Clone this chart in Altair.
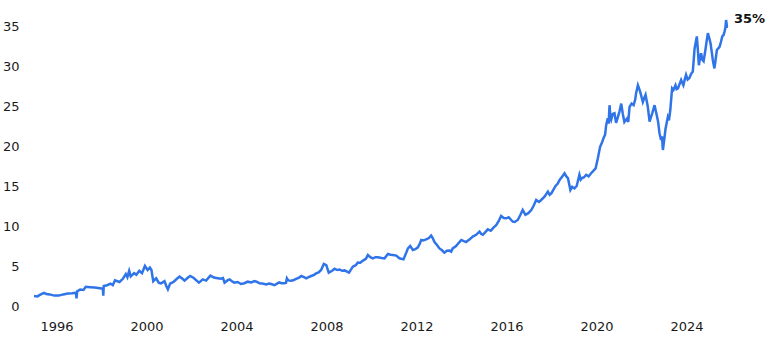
import altair as alt
import pandas as pd

years = [
    1995.00, 1995.15, 1995.30, 1995.45, 1995.55, 1995.70, 1995.90, 1996.10, 1996.30, 1996.50,
    1996.70, 1996.86, 1996.89, 1996.92, 1997.05, 1997.20, 1997.30, 1997.50, 1997.70, 1997.85,
    1998.00, 1998.06, 1998.08, 1998.10, 1998.25, 1998.40, 1998.50, 1998.60, 1998.80, 1998.95,
    1999.08, 1999.15, 1999.23, 1999.30, 1999.45, 1999.55, 1999.68, 1999.80, 1999.93, 2000.05,
    2000.15, 2000.22, 2000.30, 2000.43, 2000.55, 2000.65, 2000.80, 2000.88, 2000.95, 2001.05,
    2001.20, 2001.35, 2001.47, 2001.60, 2001.69, 2001.82, 2001.94, 2002.10, 2002.33, 2002.50,
    2002.65, 2002.84, 2003.00, 2003.10, 2003.30, 2003.40, 2003.47, 2003.60, 2003.69, 2003.80,
    2003.90, 2004.05, 2004.20, 2004.35, 2004.50, 2004.65, 2004.80, 2004.92, 2005.02, 2005.15,
    2005.32, 2005.45, 2005.54, 2005.69, 2005.80, 2005.90, 2006.00, 2006.13, 2006.20, 2006.24,
    2006.30, 2006.43, 2006.55, 2006.65, 2006.78, 2006.88, 2007.00, 2007.10, 2007.20, 2007.32,
    2007.45, 2007.54, 2007.65, 2007.76, 2007.88, 2007.99, 2008.10, 2008.25, 2008.36, 2008.48,
    2008.58, 2008.70, 2008.80, 2009.00, 2009.10, 2009.17, 2009.30, 2009.39, 2009.50, 2009.62,
    2009.75, 2009.84, 2009.95, 2010.06, 2010.18, 2010.28, 2010.45, 2010.58, 2010.73, 2010.85,
    2010.95, 2011.10, 2011.24, 2011.42, 2011.55, 2011.62, 2011.72, 2011.84, 2011.95, 2012.06,
    2012.15, 2012.21, 2012.30, 2012.43, 2012.55, 2012.65, 2012.72, 2012.80, 2012.92, 2013.02,
    2013.12, 2013.24, 2013.35, 2013.47, 2013.54, 2013.61, 2013.76, 2013.88, 2013.99, 2014.10,
    2014.20, 2014.35, 2014.50, 2014.65, 2014.80, 2014.88, 2014.95, 2015.05, 2015.17, 2015.30,
    2015.42, 2015.54, 2015.65, 2015.76, 2015.88, 2015.99, 2016.10, 2016.21, 2016.28, 2016.36,
    2016.50, 2016.62, 2016.72, 2016.84, 2016.97, 2017.10, 2017.20, 2017.32, 2017.44, 2017.54,
    2017.69, 2017.84, 2017.92, 2018.00, 2018.10, 2018.18, 2018.28, 2018.36, 2018.48, 2018.58,
    2018.66, 2018.73, 2018.84, 2018.92, 2019.02, 2019.12, 2019.24, 2019.30, 2019.36, 2019.45,
    2019.54, 2019.65, 2019.76, 2019.86, 2019.96, 2020.06, 2020.16, 2020.24, 2020.31, 2020.38,
    2020.43, 2020.50, 2020.54, 2020.58, 2020.62, 2020.65, 2020.72, 2020.80, 2020.87, 2020.95,
    2021.02, 2021.10, 2021.17, 2021.24, 2021.35, 2021.41, 2021.47, 2021.56, 2021.65, 2021.72,
    2021.76, 2021.84, 2021.94, 2022.06, 2022.12, 2022.18, 2022.28, 2022.36, 2022.42, 2022.48,
    2022.58, 2022.68, 2022.74, 2022.80, 2022.87, 2022.91, 2022.95, 2023.02, 2023.07, 2023.17,
    2023.22, 2023.28, 2023.36, 2023.42, 2023.51, 2023.56, 2023.62, 2023.70, 2023.76, 2023.81,
    2023.86, 2023.92, 2023.98, 2024.05, 2024.13, 2024.20, 2024.28, 2024.36, 2024.46, 2024.51,
    2024.55, 2024.60, 2024.65, 2024.70, 2024.76, 2024.84, 2024.90, 2024.95, 2025.02, 2025.07,
    2025.12, 2025.17, 2025.24, 2025.28, 2025.35, 2025.47, 2025.53, 2025.59, 2025.65, 2025.69,
    2025.73, 2025.76, 2025.80, 2025.84,
]

values = [
    1.25, 1.20, 1.45, 1.65, 1.50, 1.45, 1.30, 1.30, 1.45, 1.55,
    1.60, 1.67, 0.95, 1.85, 2.05, 2.00, 2.40, 2.35, 2.30, 2.25,
    2.20, 2.15, 1.30, 2.50, 2.60, 2.80, 2.60, 3.20, 3.00, 3.40,
    4.00, 3.60, 4.40, 3.70, 4.10, 3.90, 4.40, 4.10, 5.00, 4.50,
    4.80, 4.50, 3.10, 3.46, 2.90, 2.83, 3.10, 2.50, 2.08, 2.80,
    3.00, 3.40, 3.67, 3.40, 3.17, 3.50, 3.75, 3.50, 2.92, 3.33,
    3.17, 3.80, 3.55, 3.50, 3.40, 3.50, 2.92, 3.20, 3.33, 3.10,
    2.92, 3.00, 2.75, 2.85, 3.04, 2.95, 3.12, 3.00, 2.83, 2.80,
    2.70, 2.80, 2.75, 2.60, 2.80, 2.96, 2.85, 2.83, 2.90, 3.46,
    3.20, 3.17, 3.25, 3.38, 3.55, 3.75, 3.60, 3.46, 3.60, 3.75,
    3.90, 4.08, 4.20, 4.50, 5.25, 5.10, 4.17, 4.40, 4.67, 4.50,
    4.55, 4.40, 4.45, 4.17, 4.60, 4.92, 5.10, 5.42, 5.40, 5.67,
    5.90, 6.38, 6.10, 5.96, 6.10, 6.08, 6.00, 5.96, 6.50, 6.40,
    6.38, 6.30, 5.96, 5.83, 6.70, 7.20, 7.50, 7.00, 7.10, 7.33,
    7.80, 8.25, 8.20, 8.33, 8.50, 8.80, 8.50, 8.00, 7.60, 7.20,
    7.00, 6.67, 6.90, 6.92, 6.80, 7.20, 7.50, 7.90, 8.25, 8.10,
    8.00, 8.30, 8.67, 8.90, 9.30, 9.00, 8.90, 9.20, 9.58, 9.40,
    9.80, 10.10, 10.60, 11.25, 11.00, 10.96, 11.10, 10.75, 10.54, 10.50,
    10.75, 11.40, 12.00, 11.40, 11.60, 12.00, 12.50, 13.25, 13.00, 13.25,
    13.67, 14.30, 13.90, 14.10, 14.60, 15.00, 15.30, 15.75, 16.20, 16.58,
    16.20, 16.00, 14.50, 14.90, 14.70, 15.00, 16.40, 15.80, 16.00, 16.10,
    16.40, 16.20, 16.60, 16.90, 17.20, 18.46, 19.90, 20.40, 20.96, 21.40,
    22.60, 23.46, 22.80, 25.10, 23.50, 23.25, 24.00, 24.10, 22.90, 23.60,
    24.30, 25.30, 24.00, 23.00, 23.40, 23.00, 24.90, 25.30, 25.10, 25.80,
    26.60, 27.60, 26.80, 25.50, 26.00, 26.40, 24.90, 23.04, 23.60, 24.10,
    25.10, 23.80, 23.00, 21.60, 20.75, 21.20, 19.50, 21.00, 22.20, 23.60,
    23.20, 24.50, 27.20, 27.00, 27.60, 27.10, 27.20, 27.80, 28.25, 27.90,
    27.60, 28.30, 28.90, 28.30, 28.50, 29.00, 29.30, 32.20, 33.70, 31.80,
    30.10, 31.00, 31.60, 30.80, 30.60, 32.00, 33.20, 34.10, 33.40, 32.80,
    31.80, 30.75, 29.70, 30.50, 32.00, 32.40, 33.00, 33.70, 33.90, 34.30,
    34.80, 35.75, 34.90, 34.90,
]

x_ticks = [1996, 2000, 2004, 2008, 2012, 2016, 2020, 2024]
y_ticks = [0, 5, 10, 15, 20, 25, 30, 35]
end_label = ["35%"]

df = pd.DataFrame({"year": years, "value": values})
df_label = pd.DataFrame({"year": [years[-1]], "value": [values[-1]], "label": end_label})

FONT = "DejaVu Sans"

x_enc = alt.X(
    "year:Q",
    scale=alt.Scale(domain=[1995, 2027], nice=False, zero=False),
    axis=alt.Axis(values=x_ticks, format="d", title=None, domain=False, ticks=False,
                  grid=False, labelPadding=14, labelFontSize=13, labelFont=FONT,
                  labelColor="#1a1a1a"),
)
y_enc = alt.Y(
    "value:Q",
    scale=alt.Scale(domain=[0, 37], nice=False),
    axis=alt.Axis(values=y_ticks, title=None, domain=False, ticks=False, grid=False,
                  labelPadding=15, labelFontSize=13, labelFont=FONT,
                  labelColor="#1a1a1a"),
)

line = alt.Chart(df).mark_line(color="#2f74e8", strokeWidth=2.5).encode(x=x_enc, y=y_enc)

label = alt.Chart(df_label).mark_text(
    align="left", baseline="middle", dx=6, dy=-8, fontSize=13, fontWeight="bold",
    font=FONT, color="#111111",
).encode(x="year:Q", y="value:Q", text="label:N")

chart = (
    alt.layer(line, label)
    .properties(width=720, height=296, autosize=alt.AutoSizeParams(type="none"),
                padding={"left": 34, "top": 10, "right": 14, "bottom": 32},
                background="white")
    .configure_view(stroke=None, strokeWidth=0)
)

chart.save("out.html", embed_options={"renderer": "svg", "actions": False})
